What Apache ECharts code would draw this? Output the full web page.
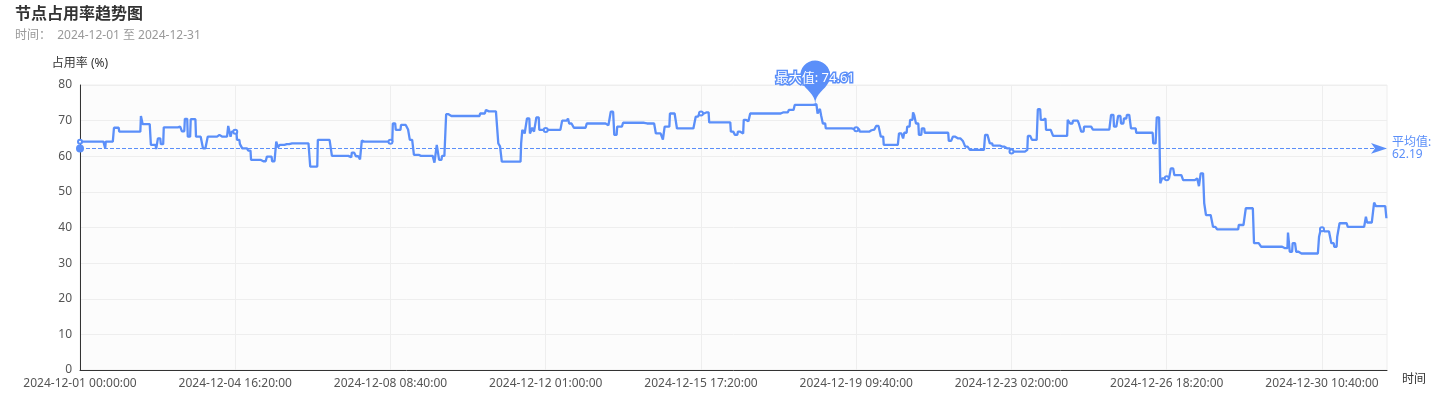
<!DOCTYPE html>
<html>
<head>
<meta charset="utf-8">
<script src="https://cdn.jsdelivr.net/npm/echarts@6/dist/echarts.min.js"></script>
<style>
html,body{margin:0;padding:0;background:#fff;}
#chart{width:1447px;height:416px;}
</style>
</head>
<body>
<div id="chart"></div>
<script>
// ---- data (20-minute samples, step changes) ----
const titleText = '节点占用率趋势图';
const subtitleText = '时间：  2024-12-01 至 2024-12-31';
const startDate = [2024, 11, 1, 0, 0, 0]; // 2024-12-01 00:00:00
const sampleMinutes = 20;
const sampleCount = 2232;
// index where a level starts
const stepIndex = [0,43,44,58,67,104,107,121,130,133,138,143,171,174,179,184,189,198,207,210,218,236,241,253,257,259,268,273,277,287,292,311,319,328,335,338,341,353,358,393,406,427,430,459,464,471,478,481,485,534,539,548,560,563,570,580,605,609,613,618,625,632,683,693,696,714,717,720,753,755,759,763,768,772,775,779,784,823,833,835,843,865,900,906,912,917,927,964,983,995,998,1007,1019,1051,1057,1067,1074,1111,1118,1123,1128,1133,1139,1144,1200,1210,1220,1255,1259,1263,1265,1268,1273,1320,1331,1349,1352,1359,1367,1372,1398,1405,1407,1412,1417,1422,1424,1427,1432,1437,1442,1483,1490,1497,1507,1511,1519,1545,1553,1558,1574,1581,1589,1615,1618,1625,1635,1640,1646,1649,1661,1686,1690,1695,1705,1709,1714,1729,1760,1765,1772,1777,1782,1787,1794,1803,1832,1838,1844,1847,1862,1868,1883,1905,1910,1913,1919,1922,1934,1941,1978,1990,2004,2016,2053,2062,2065,2070,2076,2081,2115,2118,2124,2136,2141,2146,2150,2164,2195,2197,2209,2212,2230];
// occupancy (%) of each level
const stepValue = [64.1,62.2,64.1,68.0,66.9,71.3,69.0,63.2,62.0,65.0,63.4,68.1,68.3,67.0,70.5,65.5,70.4,65.5,65.0,62.2,65.5,66.0,65.5,68.5,65.5,66.9,64.6,63.4,62.2,61.6,59.0,58.6,59.9,58.6,64.1,62.5,63.2,63.4,63.6,57.1,64.6,64.9,60.1,59.7,61.0,60.0,59.1,64.4,64.1,69.2,67.4,68.8,67.5,64.6,60.4,60.1,58.2,63.2,59.0,60.1,71.8,71.3,72.0,73.0,72.6,63.6,62.8,58.5,63.6,67.4,66.4,70.6,66.4,68.0,66.9,70.9,67.4,70.0,70.6,69.2,68.0,69.2,68.7,72.5,66.0,68.3,69.4,69.2,66.4,64.7,68.3,72.0,67.8,71.1,72.0,72.3,69.5,66.9,66.0,66.9,66.4,70.2,69.8,72.0,72.3,73.0,74.4,74.61,72.0,73.3,71.5,69.2,67.8,67.6,66.9,67.3,67.5,68.5,65.5,63.2,66.4,65.0,66.6,68.3,70.2,72.3,71.5,69.2,66.0,67.8,66.6,64.3,65.5,65.0,64.3,62.7,61.8,66.0,63.6,63.0,62.7,62.2,61.3,61.8,65.7,64.6,73.2,70.2,70.6,67.4,65.7,70.2,69.2,70.0,69.2,66.9,68.3,67.5,71.6,68.3,71.3,69.2,70.6,71.6,67.8,66.6,63.6,70.9,52.4,53.8,56.6,54.7,53.3,53.8,51.6,55.2,46.8,43.5,40.2,39.5,40.7,45.4,35.6,34.6,34.2,38.6,33.2,35.6,33.2,32.7,37.4,39.5,38.9,35.6,34.6,37.4,41.2,40.2,43.0,41.4,47.0,46.0,42.6];
const averageValue = 62.19;
const yTicks = [0, 80, 10]; // min, max, interval
const xAxisName = '时间';
const yAxisName = '占用率 (%)';

// ---- build categories and series ----
function pad(n){return (n<10?'0':'')+n;}
const categories = [];
const base = new Date(startDate[0], startDate[1], startDate[2], startDate[3], startDate[4], startDate[5]);
for (let i = 0; i < sampleCount; i++) {
  const d = new Date(base.getTime() + i * sampleMinutes * 60000);
  categories.push(d.getFullYear()+'-'+pad(d.getMonth()+1)+'-'+pad(d.getDate())+' '+pad(d.getHours())+':'+pad(d.getMinutes())+':'+pad(d.getSeconds()));
}
const values = [];
let k = 0;
for (let i = 0; i < sampleCount; i++) {
  while (k + 1 < stepIndex.length && stepIndex[k + 1] <= i) k++;
  values.push(stepValue[k]);
}

const lineColor = '#5B8FF9';
const chart = echarts.init(document.getElementById('chart'), null, {renderer: 'canvas'});
chart.setOption({
  animation: false,
  color: [lineColor],
  textStyle: {fontFamily: "'Noto Sans', 'Noto Sans CJK SC', sans-serif"},
  title: {
    text: titleText,
    subtext: subtitleText,
    left: 10,
    top: 0,
    itemGap: 9,
    textStyle: {fontSize: 16, fontWeight: 'bold', color: '#333', fontFamily: "'Noto Sans CJK SC', sans-serif"},
    subtextStyle: {fontSize: 12, color: '#999'}
  },
  grid: {
    left: 80, right: 60, top: 85, bottom: 46,
    show: true, backgroundColor: '#fcfcfc', borderColor: '#eeeeee', borderWidth: 1
  },
  xAxis: {
    type: 'category',
    data: categories,
    boundaryGap: false,
    name: xAxisName,
    nameTextStyle: {color: '#333', fontSize: 12, verticalAlign: 'top', padding: [4, 0, 0, 0]},
    axisLine: {show: true, lineStyle: {color: '#333'}},
    axisTick: {show: false},
    axisLabel: {interval: 264, color: '#555', fontSize: 12},
    splitLine: {show: true, interval: 264, lineStyle: {color: '#eeeeee'}}
  },
  yAxis: {
    type: 'value',
    min: yTicks[0], max: yTicks[1], interval: yTicks[2],
    name: yAxisName,
    nameTextStyle: {color: '#333', fontSize: 12},
    axisLine: {show: true, lineStyle: {color: '#333'}},
    axisTick: {show: false},
    axisLabel: {color: '#555', fontSize: 12},
    splitLine: {show: true, lineStyle: {color: '#eeeeee'}}
  },
  series: [{
    type: 'line',
    data: values,
    lineStyle: {width: 2.3, color: lineColor},
    itemStyle: {color: lineColor},
    symbolSize: 4,
    markPoint: {
      data: [{type: 'max', name: '最大值'}],
      label: {formatter: '最大值: {c}', fontSize: 13, color: '#fff', textBorderColor: lineColor, textBorderWidth: 3}
    },
    markLine: {
      data: [{yAxis: averageValue, name: '平均值'}],
      label: {formatter: '平均值:\n{c}', color: lineColor},
      lineStyle: {color: lineColor}
    }
  }]
});
</script>
</body>
</html>
